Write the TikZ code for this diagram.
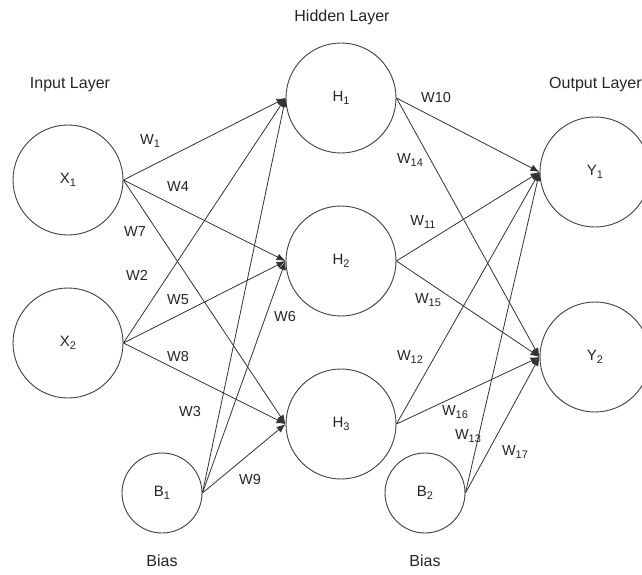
\documentclass[tikz,border=0pt]{standalone}
\usepackage{fontspec}
\setmainfont{Liberation Sans}
\usetikzlibrary{arrows.meta}
\newcommand{\lowsub}[1]{\raisebox{-0.4ex}{\fontsize{11}{11}\selectfont #1}}
\begin{document}
\begin{tikzpicture}[x=1pt,y=-1pt,
  neuron/.style={circle,draw=black!75,line width=0.9pt,minimum size=110pt,inner sep=0pt,font=\fontsize{15}{17}\selectfont,text=black!85},
  biasn/.style={neuron,minimum size=80pt},
  conn/.style={draw=black!80,line width=0.8pt,-{Latex[length=9pt,width=7pt]}},
  lbl/.style={font=\fontsize{16}{18}\selectfont,inner sep=0pt,text=black!85},
  wl/.style={font=\fontsize{14.5}{16}\selectfont,inner sep=0pt,text=black!85}]
\useasboundingbox (0,0) rectangle (642,575);
\fill[white] (0,0) rectangle (642,575);
% layer titles
\node[lbl] (tin) at (70,85) {Input Layer};
\node[lbl] (thid) at (342,17) {Hidden Layer};
\node[lbl,anchor=west] (tout) at (549,85) {Output Layer};
\node[lbl] (tb1) at (162,561) {Bias};
\node[lbl] (tb2) at (425,561) {Bias};
% neurons
\node[neuron] (X1) at (68,180) {X\lowsub{1}};
\node[neuron] (X2) at (68,343) {X\lowsub{2}};
\node[neuron] (H1) at (341,98) {H\lowsub{1}};
\node[neuron] (H2) at (341,261) {H\lowsub{2}};
\node[neuron] (H3) at (341,424) {H\lowsub{3}};
\node[neuron] (Y1) at (595,172) {Y\lowsub{1}};
\node[neuron] (Y2) at (595,357) {Y\lowsub{2}};
\node[biasn] (B1) at (162,493) {B\lowsub{1}};
\node[biasn] (B2) at (425,493) {B\lowsub{2}};
% connections input -> hidden
\foreach \s in {X1,X2,B1}{
  \foreach \t in {H1,H2,H3}{
    \draw[conn] (\s.east) -- (\t.west);
  }
}
% connections hidden -> output
\foreach \s in {H1,H2,H3,B2}{
  \foreach \t in {Y1,Y2}{
    \draw[conn] (\s.east) -- (\t.west);
  }
}
% weight labels
\node[wl] (w1) at (150,141) {W\lowsub{1}};
\node[wl] (w4) at (178,187) {W4};
\node[wl] (w7) at (135,232) {W7};
\node[wl] (w2) at (137,275) {W2};
\node[wl] (w5) at (178,300) {W5};
\node[wl] (w8) at (178,357) {W8};
\node[wl] (w3) at (190,412) {W3};
\node[wl] (w6) at (285,317) {W6};
\node[wl] (w9) at (250,480) {W9};
\node[wl] (w10) at (436,98) {W10};
\node[wl] (w14) at (410,160) {W\lowsub{14}};
\node[wl] (w11) at (423,222) {W\lowsub{11}};
\node[wl] (w15) at (428,300) {W\lowsub{15}};
\node[wl] (w12) at (410,357) {W\lowsub{12}};
\node[wl] (w16) at (455,412) {W\lowsub{16}};
\node[wl] (w13) at (468,436) {W\lowsub{13}};
\node[wl] (w17) at (515,452) {W\lowsub{17}};
\end{tikzpicture}
\end{document}
